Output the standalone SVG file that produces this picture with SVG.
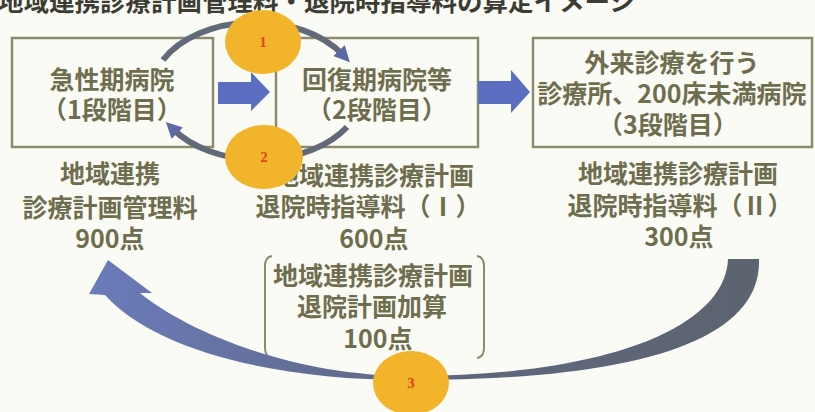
<svg xmlns="http://www.w3.org/2000/svg" width="815" height="412" viewBox="0 0 815 412">
<defs>
<style>
.t{font-family:"Noto Sans CJK JP","Noto Sans CJK SC",sans-serif;font-weight:bold;font-size:25px;fill:#6e6e4e;text-anchor:middle}
.box{fill:none;stroke:#8b8b6e;stroke-width:2.5}
.br{fill:none;stroke:#8b8b6e;stroke-width:2}
.c{fill:#f2b42a}
.n{font-family:"Liberation Serif",serif;font-weight:bold;font-size:15px;fill:#e0461c;text-anchor:middle}
.arc{fill:none;stroke:#616a78;stroke-width:6}
.blk{fill:#5b6ec2}
</style>
<marker id="ah" viewBox="0 0 16 16" markerWidth="16" markerHeight="16" refX="6" refY="8" orient="auto" markerUnits="userSpaceOnUse">
<path d="M0,0 L16,8 L0,16 z" fill="#5b6aa6"/>
</marker>
<linearGradient id="bg" x1="90" y1="0" x2="760" y2="0" gradientUnits="userSpaceOnUse">
<stop offset="0" stop-color="#6a7bbb"/>
<stop offset="0.5" stop-color="#5f6780"/>
<stop offset="1" stop-color="#5c6470"/>
</linearGradient>
</defs>
<rect width="815" height="412" fill="#fbfbf6"/>
<text x="-2" y="11" style="font-family:'Noto Sans CJK JP',sans-serif;font-weight:bold;font-size:25.5px;fill:#3c3c32">地域連携診療計画管理料・退院時指導料の算定イメージ</text>

<g id="box1">
<rect class="box" x="12" y="38" width="201" height="109"/>
<text class="t" x="112" y="89">急性期病院</text>
<text class="t" x="112" y="119">（1段階目）</text>
</g>
<g id="box2">
<rect class="box" x="276" y="38" width="202" height="109"/>
<text class="t" x="377" y="89">回復期病院等</text>
<text class="t" x="377" y="119">（2段階目）</text>
</g>
<g id="box3">
<rect class="box" x="533" y="38" width="279" height="109"/>
<text class="t" x="672" y="72">外来診療を行う</text>
<text class="t" x="672" y="103">診療所、200床未満病院</text>
<text class="t" x="668" y="134">（3段階目）</text>
</g>
<g id="fee1">
<text class="t" x="110" y="183">地域連携</text>
<text class="t" x="110" y="217">診療計画管理料</text>
<text class="t" x="110" y="248">900点</text>
</g>
<g id="fee2">
<text class="t" x="374" y="185">地域連携診療計画</text>
<text class="t" x="368" y="216">退院時指導料（Ⅰ）</text>
<text class="t" x="374" y="248">600点</text>
</g>
<g id="fee3">
<text class="t" x="678" y="183">地域連携診療計画</text>
<text class="t" x="680" y="215">退院時指導料（Ⅱ）</text>
<text class="t" x="679" y="246">300点</text>
</g>
<g id="fee4">
<path class="br" d="M272,256 Q265,257 265,266 L265,348 Q265,357 272,358"/>
<path class="br" d="M477,256 Q484,257 484,266 L484,348 Q484,357 477,358"/>
<text class="t" x="373" y="285">地域連携診療計画</text>
<text class="t" x="372" y="316">退院計画加算</text>
<text class="t" x="378" y="348">100点</text>
</g>

<g id="connectors">
<path class="blk" d="M218,82 L251,82 L251,72 L270,92 L251,111 L251,104 L218,104 z"/>
<path class="blk" d="M478,81 L511,81 L511,70 L530,92 L511,113 L511,104 L478,104 z"/>
<path class="arc" d="M163,60 A104 70 0 0 1 343,55" marker-end="url(#ah)"/>
<path class="arc" d="M347,127 A104 70 0 0 1 173,129" marker-end="url(#ah)"/>
<path fill="url(#bg)" d="M759,259 C762,340 640,380 410,380 C260,380 150,345 105,295 L89,294 L108,260 L152,293 L140,293 C185,330 290,376 410,376 C600,376 725,330 728,259 Z"/>
</g>

<g id="step1">
<ellipse class="c" cx="263" cy="42" rx="38" ry="32"/>
<text class="n" x="263" y="47">1</text>
</g>
<g id="step2">
<ellipse class="c" cx="264" cy="157" rx="39" ry="32"/>
<text class="n" x="264" y="162">2</text>
</g>
<g id="step3">
<ellipse class="c" cx="411" cy="383" rx="38" ry="32"/>
<text class="n" x="411" y="388">3</text>
</g>
</svg>
